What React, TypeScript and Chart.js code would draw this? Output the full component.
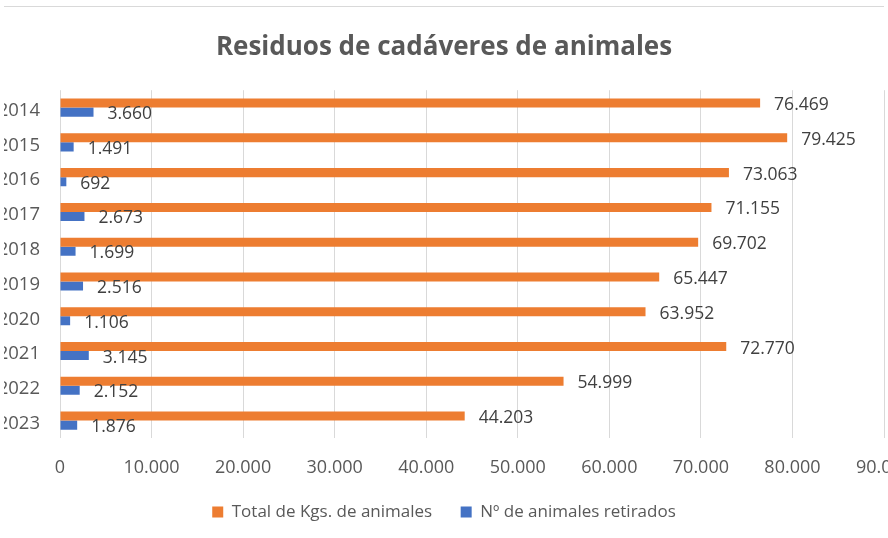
import React, { useEffect, useRef } from 'react';
import { Chart, registerables } from 'chart.js';

Chart.register(...registerables);

const years = ['2014', '2015', '2016', '2017', '2018', '2019', '2020', '2021', '2022', '2023'];
const totalKgs = [76469, 79425, 73063, 71155, 69702, 65447, 63952, 72770, 54999, 44203];
const animalesRetirados = [3660, 1491, 692, 2673, 1699, 2516, 1106, 3145, 2152, 1876];
const xMax = 90000;
const xStep = 10000;

const FONT = '"Open Sans", "Noto Sans", sans-serif';
const SHIFT = 24;
const SIDE = 28;
const CW = 888 + 2 * SHIFT;
const CH = 538;

const fmt = (v: number) => Math.round(v).toString().replace(/\B(?=(\d{3})+(?!\d))/g, '.');

const decoPlugin = {
  id: 'deco',
  beforeDraw(chart: any) {
    const ctx = chart.ctx;
    ctx.save();
    ctx.fillStyle = '#ffffff';
    ctx.fillRect(0, 0, chart.width, chart.height);
    ctx.strokeStyle = '#d9d9d9';
    ctx.lineWidth = 1;
    ctx.beginPath();
    ctx.moveTo(SHIFT + 4, 6.5);
    ctx.lineTo(SHIFT + 884, 6.5);
    ctx.stroke();
    ctx.restore();
  },
  afterDatasetsDraw(chart: any) {
    const ctx = chart.ctx;
    ctx.save();
    ctx.font = `17.5px ${FONT}`;
    ctx.fillStyle = '#404040';
    ctx.textBaseline = 'middle';
    ctx.textAlign = 'left';
    chart.data.datasets.forEach((ds: any, i: number) => {
      const meta = chart.getDatasetMeta(i);
      meta.data.forEach((el: any, j: number) => {
        ctx.fillText(fmt(ds.data[j]), el.x + 14, el.y + 2);
      });
    });
    ctx.restore();
  },
};

export default function App() {
  const ref = useRef<HTMLCanvasElement>(null);
  useEffect(() => {
    if (!ref.current) return;
    const chart = new Chart(ref.current, {
      type: 'bar',
      data: {
        labels: years,
        datasets: [
          {
            label: 'Total de Kgs. de animales',
            data: totalKgs,
            backgroundColor: '#ED7D31',
            categoryPercentage: 0.52,
            barPercentage: 1,
          },
          {
            label: 'Nº de animales retirados',
            data: animalesRetirados,
            backgroundColor: '#4472C4',
            categoryPercentage: 0.52,
            barPercentage: 1,
          },
        ],
      },
      options: {
        indexAxis: 'y',
        responsive: false,
        animation: false,
        layout: { padding: { left: SIDE, right: SIDE, top: 0, bottom: 7.5 } },
        plugins: {
          title: {
            display: true,
            text: 'Residuos de cadáveres de animales',
            color: '#595959',
            font: { family: FONT, size: 26, weight: 'bold' },
            padding: { top: 32, bottom: 27 },
          },
          legend: {
            position: 'bottom',
            labels: {
              boxWidth: 11,
              boxHeight: 11,
              color: '#595959',
              font: { family: FONT, size: 17 },
              padding: 28.5,
            },
          },
          tooltip: { enabled: false },
        },
        scales: {
          x: {
            min: 0,
            max: xMax,
            afterFit: (s: any) => {
              s.height = 37;
              s.paddingRight = 0;
              s.paddingLeft = 0;
            },
            ticks: {
              stepSize: xStep,
              color: '#595959',
              font: { family: FONT, size: 18 },
              padding: 19,
              callback: (v: any) => fmt(Number(v)),
              maxRotation: 0,
            },
            grid: { color: '#d9d9d9', drawTicks: false },
            border: { display: false },
          },
          y: {
            afterFit: (s: any) => {
              s.width = SHIFT + 60 - SIDE;
              s.paddingTop = 0;
              s.paddingBottom = 0;
            },
            ticks: {
              color: '#595959',
              font: { family: FONT, size: 18.5 },
              padding: 20,
              labelOffset: 3,
            },
            grid: { display: false, drawTicks: false },
            border: { display: false },
          },
        },
      },
      plugins: [decoPlugin],
    });
    return () => chart.destroy();
  }, []);
  return (
    <div style={{ position: 'fixed', left: 0, top: 0, width: 888, height: 538, overflow: 'hidden', background: '#fff' }}>
      <canvas ref={ref} width={CW} height={CH} style={{ position: 'absolute', left: -SHIFT, top: 0, width: CW, height: CH }} />
    </div>
  );
}
